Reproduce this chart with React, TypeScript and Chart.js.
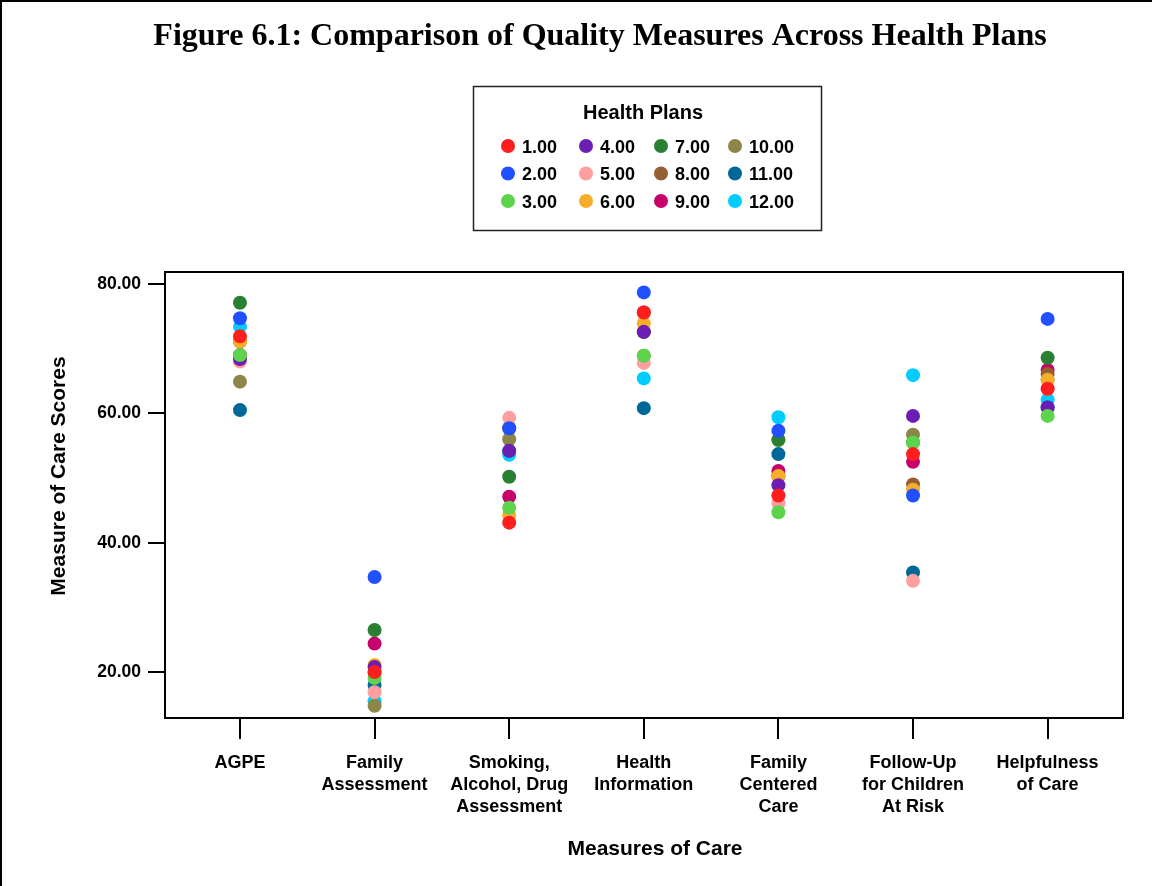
import React, { useEffect, useRef } from "react";
import { Chart, registerables } from "chart.js";

Chart.register(...registerables);

const categories: string[][] = [
  ["AGPE"],
  ["Family", "Assessment"],
  ["Smoking,", "Alcohol, Drug", "Assessment"],
  ["Health", "Information"],
  ["Family", "Centered", "Care"],
  ["Follow-Up", "for Children", "At Risk"],
  ["Helpfulness", "of Care"],
];

const planLabels = ["1.00", "2.00", "3.00", "4.00", "5.00", "6.00", "7.00", "8.00", "9.00", "10.00", "11.00", "12.00"];

const planColors = [
  "rgb(255,30,30)",
  "rgb(32,80,255)",
  "rgb(92,212,76)",
  "rgb(108,30,180)",
  "rgb(255,158,158)",
  "rgb(245,173,42)",
  "rgb(40,128,48)",
  "rgb(150,95,50)",
  "rgb(200,0,108)",
  "rgb(140,135,72)",
  "rgb(0,104,152)",
  "rgb(0,204,255)",
];

const plan1 = [71.9, 20.0, 43.1, 75.6, 47.3, 53.7, 63.8];
const plan2 = [74.7, 34.7, 57.7, 78.7, 57.3, 47.3, 74.6];
const plan3 = [69.0, 19.1, 45.4, 68.9, 44.7, 55.5, 59.6];
const plan4 = [68.4, 20.8, 54.2, 72.6, 48.9, 59.6, 60.9];
const plan5 = [68.0, 16.9, 59.3, 67.8, 46.1, 34.1, 63.8];
const plan6 = [71.1, 21.1, 44.3, 73.9, 50.3, 48.2, 65.2];
const plan7 = [77.1, 26.5, 50.2, 72.6, 55.9, 55.5, 68.6];
const plan8 = [71.1, 20.0, 57.7, 75.6, 50.3, 49.0, 66.1];
const plan9 = [69.0, 24.4, 47.1, 72.6, 51.1, 52.5, 66.7];
const plan10 = [64.9, 14.8, 56.0, 68.9, 55.9, 56.7, 65.2];
const plan11 = [60.5, 18.0, 54.2, 60.8, 53.7, 35.4, 60.9];
const plan12 = [73.4, 15.5, 53.6, 65.4, 59.4, 65.9, 62.1];

const planValues = [plan1, plan2, plan3, plan4, plan5, plan6, plan7, plan8, plan9, plan10, plan11, plan12];

const yTickValues = [20, 40, 60, 80];

const chartTitle = "Figure 6.1: Comparison of Quality Measures Across Health Plans";
const legendTitle = "Health Plans";
const xAxisTitle = "Measures of Care";
const yAxisTitle = "Measure of Care Scores";

const SANS = '"Liberation Sans", Arial, sans-serif';
const SERIF = '"Liberation Serif", "Times New Roman", serif';

const decorPlugin = {
  id: "decor",
  afterDraw(chart: any) {
    const ctx = chart.ctx as CanvasRenderingContext2D;
    const a = chart.chartArea;
    ctx.save();
    // plot frame
    ctx.strokeStyle = "#000";
    ctx.lineWidth = 2;
    ctx.strokeRect(a.left, a.top, a.right - a.left, a.bottom - a.top);
    // outer frame (top / left)
    ctx.fillStyle = "#000";
    ctx.fillRect(0, 0, 1152, 2);
    ctx.fillRect(0, 0, 2, 886);

    // title
    ctx.fillStyle = "#000";
    ctx.font = `bold 32px ${SERIF}`;
    ctx.textAlign = "center";
    ctx.textBaseline = "alphabetic";
    ctx.fillText(chartTitle, 600, 45);

    // legend box
    ctx.strokeStyle = "#222";
    ctx.lineWidth = 1.5;
    ctx.strokeRect(473.5, 86.5, 348, 144);
    ctx.font = `bold 20px ${SANS}`;
    ctx.textAlign = "center";
    ctx.fillText(legendTitle, 643, 119);
    const colX = [508, 586, 661, 735];
    const rowY = [146, 173.5, 201];
    ctx.font = `bold 18px ${SANS}`;
    ctx.textAlign = "left";
    planLabels.forEach((lab, i) => {
      const c = Math.floor(i / 3);
      const r = i % 3;
      ctx.fillStyle = planColors[i];
      ctx.beginPath();
      ctx.arc(colX[c], rowY[r], 7, 0, Math.PI * 2);
      ctx.fill();
      ctx.fillStyle = "#000";
      ctx.fillText(lab, colX[c] + 14, rowY[r] + 6.5);
    });

    // axis titles
    ctx.font = `bold 21px ${SANS}`;
    ctx.textAlign = "center";
    ctx.fillText(xAxisTitle, 655, 854.5);
    ctx.translate(64.5, 476);
    ctx.rotate(-Math.PI / 2);
    ctx.fillText(yAxisTitle, 0, 0);
    ctx.restore();
  },
};

export default function App() {
  const ref = useRef<HTMLCanvasElement | null>(null);
  useEffect(() => {
    if (!ref.current) return;
    const datasets = planValues.map((vals, i) => ({
      label: planLabels[i],
      data: vals.map((v, j) => ({ x: j, y: v })),
      backgroundColor: planColors[i],
      borderColor: planColors[i],
      pointRadius: 7,
      pointBorderWidth: 0,
      showLine: false,
    }));
    const chart = new Chart(ref.current, {
      type: "scatter",
      data: { datasets },
      plugins: [decorPlugin],
      options: {
        animation: false,
        responsive: false,
        maintainAspectRatio: false,
        layout: { padding: { top: 272, right: 29, left: 0, bottom: 0 } },
        plugins: { legend: { display: false }, tooltip: { enabled: false }, title: { display: false } },
        scales: {
          x: {
            type: "linear",
            min: -0.557,
            max: 6.56,
            afterFit: (s: any) => {
              s.height = 168;
            },
            afterBuildTicks: (s: any) => {
              s.ticks = categories.map((_, i) => ({ value: i }));
            },
            ticks: {
              autoSkip: false,
              maxRotation: 0,
              minRotation: 0,
              padding: 13,
              color: "#000",
              font: { family: SANS, size: 18, weight: "bold", lineHeight: "22px" },
              callback: (v: any) => categories[Math.round(Number(v))] ?? "",
            },
            grid: { drawOnChartArea: false, drawTicks: true, tickLength: 21, color: "#000", lineWidth: 2 },
            border: { display: false },
          },
          y: {
            type: "linear",
            min: 12.9,
            max: 81.85,
            afterFit: (s: any) => {
              s.width = 165;
            },
            afterBuildTicks: (s: any) => {
              s.ticks = yTickValues.map((v) => ({ value: v }));
            },
            ticks: {
              padding: 7,
              color: "#000",
              font: { family: SANS, size: 17.5, weight: "bold" },
              callback: (v: any) => Number(v).toFixed(2),
            },
            grid: { drawOnChartArea: false, drawTicks: true, tickLength: 17, color: "#000", lineWidth: 2 },
            border: { display: false },
          },
        },
      },
    } as any);
    return () => chart.destroy();
  }, []);
  return (
    <div style={{ position: "fixed", left: 0, top: 0, width: 1152, height: 886, background: "#fff" }}>
      <canvas ref={ref} width={1152} height={886} style={{ display: "block", width: 1152, height: 886 }} />
    </div>
  );
}
